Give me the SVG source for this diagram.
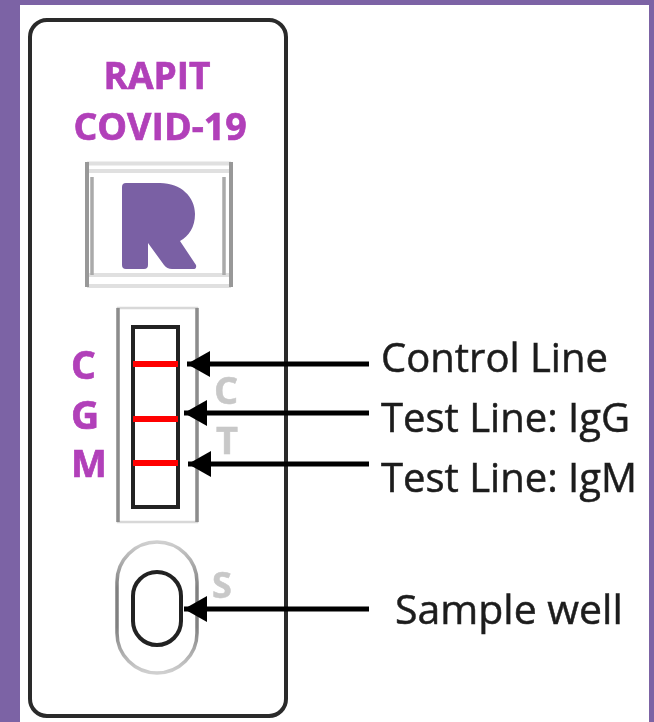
<svg xmlns="http://www.w3.org/2000/svg" width="654" height="722" viewBox="0 0 654 722">
<style>
.h{font-family:"Open Sans","Noto Sans","Liberation Sans",sans-serif;font-weight:700;fill:#b13fb9;stroke:#b13fb9;stroke-width:.7px}
.g{font-family:"Open Sans","Noto Sans","Liberation Sans",sans-serif;font-weight:700;fill:#c8c8c8;stroke:#c8c8c8;stroke-width:.5px;font-size:38px}
.l{font-family:"Open Sans","Noto Sans","Liberation Sans",sans-serif;fill:#1c1c1c;stroke:#1c1c1c;stroke-width:.5px;font-size:40px}
.a{stroke:#000;stroke-width:5;fill:none}
.s{filter:url(#b)}
</style>
<defs>
<filter id="b" x="-5%" y="-5%" width="110%" height="110%"><feGaussianBlur stdDeviation="0.65"/></filter>
<linearGradient id="w" gradientUnits="userSpaceOnUse" x1="0" y1="542" x2="0" y2="673"><stop offset="0" stop-color="#d0d0d0"/><stop offset=".35" stop-color="#808080"/><stop offset=".65" stop-color="#808080"/><stop offset="1" stop-color="#d0d0d0"/></linearGradient>
<marker id="ah" markerUnits="userSpaceOnUse" markerWidth="25" markerHeight="28" refX="23" refY="14" orient="auto"><path d="M0 1L23 14L0 27Z" fill="#000"/></marker>
</defs>
<rect width="654" height="722" fill="#7c63a5"/>
<rect x="20" y="5" width="629" height="717" fill="#fff"/>
<g id="cassette" class="s"><rect x="30" y="20" width="256" height="696" rx="17" fill="#fff" stroke="#2a2a2a" stroke-width="4"/></g>
<g id="title" class="s"><text class="h" x="157" y="89" font-size="37" text-anchor="middle">RAPIT</text><text class="h" x="160" y="140" font-size="37.500" text-anchor="middle">COVID-19</text></g>
<g id="logo" class="s">
<path d="M87 163.500H231M87 171H231M87 275H231M87 286H231" stroke="#e0e0e0" stroke-width="4" fill="none"/>
<path d="M87 162V287M231 162V287" stroke="#989898" stroke-width="4" fill="none"/>
<path d="M92 177V275M224 177V275" stroke="#aaaaaa" stroke-width="3.500" fill="none"/>
<path d="M126 183H160C181 183 195 197 195 214C195 227 189 236 180 241L196 265Q197 269 193 269H172Q167 269 164 265L148 243V265Q148 269 144 269H126Q122 269 122 265V187Q122 183 126 183Z" fill="#7a60a4"/>
</g>
<g id="strip" class="s">
<rect x="118" y="308" width="79" height="214" fill="#fff" stroke="#d8d8d8" stroke-width="2.500"/>
<path d="M118 308V522M197 308V522" stroke="#8c8c8c" stroke-width="3.500" fill="none"/>
<rect x="133" y="327" width="45" height="180" fill="#fff" stroke="#222" stroke-width="4"/>
<path d="M133 364H178M133 419H178M133 463H178" stroke="#ff0000" stroke-width="6" fill="none"/>
</g>
<g id="strip-letters" class="s"><text class="h" x="71" y="379" font-size="39">C</text><text class="h" x="71" y="429" font-size="39">G</text><text class="h" x="71" y="477" font-size="38">M</text><text class="g" x="214" y="404">C</text><text class="g" x="216" y="454">T</text></g>
<g id="well" class="s">
<rect x="117" y="542" width="80" height="131" rx="40" fill="#fff" stroke="url(#w)" stroke-width="3.500"/>
<rect x="133" y="572" width="48" height="73" rx="24" fill="#fff" stroke="#222" stroke-width="4"/>
<text class="g" x="212" y="598" style="font-size:36px">S</text>
</g>
<g id="connectors" class="s">
<path class="a" d="M369 364H187" marker-end="url(#ah)"/>
<path class="a" d="M369 413H184" marker-end="url(#ah)"/>
<path class="a" d="M369 464H188" marker-end="url(#ah)"/>
<path class="a" d="M369 609H184" marker-end="url(#ah)"/>
</g>
<g id="labels" class="s"><text class="l" x="381" y="372">Control Line</text><text class="l" x="381" y="432">Test Line: IgG</text><text class="l" x="381" y="492">Test Line: IgM</text><text class="l" x="395" y="624" style="font-size:41px">Sample well</text></g>
</svg>
